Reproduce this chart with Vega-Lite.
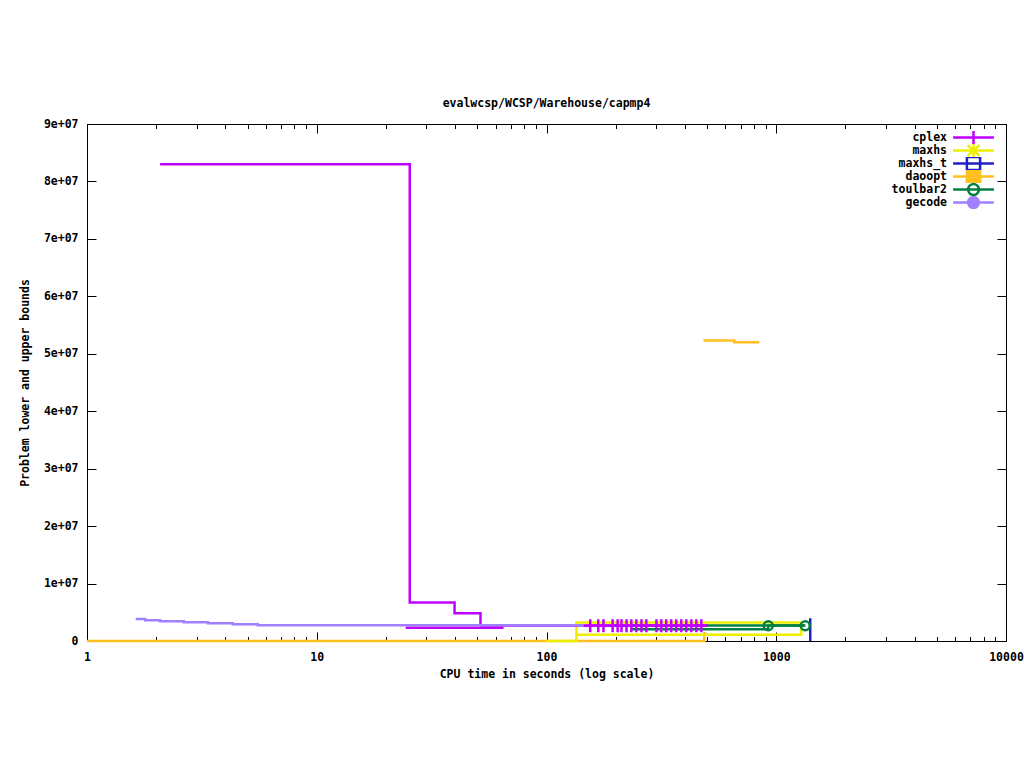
{
  "$schema": "https://vega.github.io/schema/vega-lite/v6.json",
  "width": 919,
  "height": 517,
  "autosize": "none",
  "padding": {"left": 87, "top": 124, "right": 18, "bottom": 127},
  "background": "white",
  "config": {
    "view": {"stroke": "black", "strokeWidth": 1},
    "font": "DejaVu Sans Mono",
    "axis": {
      "grid": false,
      "domainColor": "black",
      "tickColor": "black",
      "tickWidth": 1,
      "labelColor": "black",
      "labelFont": "DejaVu Sans Mono",
      "labelFontSize": 11.5,
      "labelFontWeight": "bold",
      "titleFont": "DejaVu Sans Mono",
      "titleFontSize": 11.5,
      "titleFontWeight": "bold",
      "titleColor": "black",
      "labelFlush": false,
      "labelOverlap": false,
      "labelBound": false
    }
  },
  "title": {
    "text": "evalwcsp/WCSP/Warehouse/capmp4",
    "font": "DejaVu Sans Mono",
    "fontSize": 11.5,
    "fontWeight": "bold",
    "color": "black",
    "anchor": "middle",
    "baseline": "bottom",
    "offset": -2
  },
  "datasets": {
    "lines": [
      {"s": "maxhs_t", "b": "lb", "t": 1406, "v": 0},
      {"s": "maxhs_t", "b": "lb", "t": 1406, "v": 3950000},
      {"s": "daoopt", "b": "lb", "t": 1, "v": 0},
      {"s": "daoopt", "b": "lb", "t": 486, "v": 1350000},
      {"s": "daoopt", "b": "lb", "t": 495, "v": 1350000},
      {"s": "daoopt", "b": "ub", "t": 482, "v": 52300000},
      {"s": "daoopt", "b": "ub", "t": 657, "v": 52000000},
      {"s": "daoopt", "b": "ub", "t": 844, "v": 52000000},
      {"s": "maxhs", "b": "lb", "t": 100, "v": 0},
      {"s": "maxhs", "b": "lb", "t": 135, "v": 1100000},
      {"s": "maxhs", "b": "lb", "t": 1284, "v": 3200000},
      {"s": "maxhs", "b": "ub", "t": 134.5, "v": 1100000},
      {"s": "maxhs", "b": "ub", "t": 135, "v": 3200000},
      {"s": "maxhs", "b": "ub", "t": 1284, "v": 3200000},
      {"s": "toulbar2", "b": "ub", "t": 234, "v": 2700000},
      {"s": "toulbar2", "b": "ub", "t": 1337, "v": 2700000},
      {"s": "toulbar2", "b": "lb", "t": 234, "v": 2050000},
      {"s": "toulbar2", "b": "lb", "t": 923, "v": 2700000},
      {"s": "toulbar2", "b": "lb", "t": 1337, "v": 2700000},
      {"s": "cplex", "b": "ub", "t": 2.08, "v": 83000000},
      {"s": "cplex", "b": "ub", "t": 25.4, "v": 6700000},
      {"s": "cplex", "b": "ub", "t": 39.8, "v": 4850000},
      {"s": "cplex", "b": "ub", "t": 51.6, "v": 2700000},
      {"s": "cplex", "b": "ub", "t": 502, "v": 2700000},
      {"s": "cplex", "b": "lb", "t": 24.4, "v": 2300000},
      {"s": "cplex", "b": "lb", "t": 65, "v": 2300000},
      {"s": "gecode", "b": "ub", "t": 1.63, "v": 3830000},
      {"s": "gecode", "b": "ub", "t": 1.79, "v": 3600000},
      {"s": "gecode", "b": "ub", "t": 2.08, "v": 3430000},
      {"s": "gecode", "b": "ub", "t": 2.64, "v": 3250000},
      {"s": "gecode", "b": "ub", "t": 3.36, "v": 3080000},
      {"s": "gecode", "b": "ub", "t": 4.31, "v": 2900000},
      {"s": "gecode", "b": "ub", "t": 5.54, "v": 2750000},
      {"s": "gecode", "b": "ub", "t": 146, "v": 2750000}
    ],
    "pts": [
      {"s": "cplex", "t": 155, "v": 2650000},
      {"s": "cplex", "t": 168, "v": 2650000},
      {"s": "cplex", "t": 177, "v": 2650000},
      {"s": "cplex", "t": 194, "v": 2650000},
      {"s": "cplex", "t": 204, "v": 2650000},
      {"s": "cplex", "t": 212, "v": 2650000},
      {"s": "cplex", "t": 223, "v": 2650000},
      {"s": "cplex", "t": 234, "v": 2650000},
      {"s": "cplex", "t": 246, "v": 2650000},
      {"s": "cplex", "t": 259, "v": 2650000},
      {"s": "cplex", "t": 272, "v": 2650000},
      {"s": "cplex", "t": 301, "v": 2650000},
      {"s": "cplex", "t": 316, "v": 2650000},
      {"s": "cplex", "t": 332, "v": 2650000},
      {"s": "cplex", "t": 349, "v": 2650000},
      {"s": "cplex", "t": 367, "v": 2650000},
      {"s": "cplex", "t": 386, "v": 2650000},
      {"s": "cplex", "t": 406, "v": 2650000},
      {"s": "cplex", "t": 427, "v": 2650000},
      {"s": "cplex", "t": 449, "v": 2650000},
      {"s": "cplex", "t": 472, "v": 2650000},
      {"s": "toulbar2", "t": 923, "v": 2650000},
      {"s": "toulbar2", "t": 1337, "v": 2650000}
    ]
  },
  "layer": [
    {
      "data": {"name": "lines"},
      "transform": [{"filter": "datum.s == 'maxhs_t' || datum.s == 'daoopt'"}],
      "mark": {"type": "line", "interpolate": "step-after", "strokeWidth": 2.5},
      "encoding": {
        "x": {
          "field": "t", "type": "quantitative",
          "scale": {"type": "log", "domain": [1, 10000], "nice": false},
          "axis": {
            "orient": "bottom",
            "values": [1,2,3,4,5,6,7,8,9,10,20,30,40,50,60,70,80,90,100,200,300,400,500,600,700,800,900,1000,2000,3000,4000,5000,6000,7000,8000,9000,10000],
            "labelExpr": "indexof([1,10,100,1000,10000], datum.value) >= 0 ? format(datum.value, 'd') : ''",
            "tickSize": {"condition": {"test": "indexof([1,10,100,1000,10000], datum.value) >= 0", "value": -9}, "value": -4.5},
            "labelPadding": 19,
            "title": "CPU time in seconds (log scale)",
            "titlePadding": 1
          }
        },
        "y": {
          "field": "v", "type": "quantitative",
          "scale": {"domain": [0, 90000000], "nice": false, "zero": true},
          "axis": {
            "orient": "left",
            "values": [0, 10000000, 20000000, 30000000, 40000000, 50000000, 60000000, 70000000, 80000000, 90000000],
            "labelExpr": "datum.value == 0 ? '0' : replace(format(datum.value, '.0e'), 'e+', 'e+0')",
            "tickSize": -9,
            "labelPadding": 18,
            "title": "Problem lower and upper bounds",
            "titlePadding": 13
          }
        },
        "color": {
          "field": "s", "type": "nominal",
          "scale": {
            "domain": ["cplex", "maxhs", "maxhs_t", "daoopt", "toulbar2", "gecode"],
            "range": ["#c000ff", "#eeee00", "#2020c8", "#ffc020", "#008040", "#a080ff"]
          },
          "legend": {
            "title": null,
            "orient": "none",
            "legendX": 865,
            "legendY": 7,
            "padding": 0,
            "rowPadding": 0,
            "clipHeight": 13,
            "symbolSize": 144,
            "symbolOffset": 14,
            "symbolStrokeWidth": 2.5,
            "labelAlign": "right",
            "labelOffset": -34,
            "labelFont": "DejaVu Sans Mono",
            "labelFontSize": 11.5,
            "labelFontWeight": "bold",
            "labelColor": "black",
            "encode": {
              "entries": {
                "update": {
                  "width": {"value": 60},
                  "height": {"value": 13}
                }
              },
              "symbols": {
                "update": {
                  "shape": {"signal": "datum.value == 'cplex' ? 'M-3.4,0L3.4,0M0,-1.2L0,1.2' : datum.value == 'maxhs' ? 'M-3.4,0L3.4,0M0,-1.15L0,1.15M-1,-0.9L1,0.9M-1,0.9L1,-0.9' : (datum.value == 'maxhs_t' || datum.value == 'daoopt') ? 'M-3.4,0L3.4,0M-1.1,-1.1L1.1,-1.1L1.1,1.1L-1.1,1.1Z' : 'M-3.4,0L3.4,0M-0.9,0A0.9,0.9 0 1,0 0.9,0A0.9,0.9 0 1,0 -0.9,0'"},
                  "fill": {"signal": "(datum.value == 'daoopt' || datum.value == 'gecode') ? scale('color', datum.value) : 'transparent'"},
                  "stroke": {"signal": "scale('color', datum.value)"},
                  "strokeWidth": {"value": 2.5},
                  "opacity": {"value": 1}
                }
              }
            }
          }
        },
        "detail": {"field": "b"}
      }
    },
    {
      "data": {"name": "lines"},
      "transform": [{"filter": "datum.s == 'maxhs' || datum.s == 'toulbar2'"}],
      "mark": {"type": "line", "interpolate": "step-after", "strokeWidth": 2.5},
      "encoding": {
        "x": {"field": "t", "type": "quantitative", "scale": {"type": "log", "domain": [1, 10000], "nice": false}, "axis": null},
        "y": {"field": "v", "type": "quantitative", "scale": {"domain": [0, 90000000], "nice": false, "zero": true}, "axis": null},
        "color": {"field": "s", "type": "nominal", "legend": null},
        "detail": {"field": "b"}
      }
    },
    {
      "data": {"name": "lines"},
      "transform": [{"filter": "datum.s == 'cplex'"}],
      "mark": {"type": "line", "interpolate": "step-after", "strokeWidth": 2.5},
      "encoding": {
        "x": {"field": "t", "type": "quantitative", "scale": {"type": "log", "domain": [1, 10000], "nice": false}, "axis": null},
        "y": {"field": "v", "type": "quantitative", "scale": {"domain": [0, 90000000], "nice": false, "zero": true}, "axis": null},
        "color": {"field": "s", "type": "nominal", "legend": null},
        "detail": {"field": "b"}
      }
    },
    {
      "data": {"name": "lines"},
      "transform": [{"filter": "datum.s == 'gecode'"}],
      "mark": {"type": "line", "interpolate": "step-after", "strokeWidth": 2.5},
      "encoding": {
        "x": {"field": "t", "type": "quantitative", "scale": {"type": "log", "domain": [1, 10000], "nice": false}, "axis": null},
        "y": {"field": "v", "type": "quantitative", "scale": {"domain": [0, 90000000], "nice": false, "zero": true}, "axis": null},
        "color": {"field": "s", "type": "nominal", "legend": null},
        "detail": {"field": "b"}
      }
    },
    {
      "data": {"name": "pts"},
      "transform": [{"filter": "datum.s == 'cplex'"}],
      "mark": {"type": "point", "shape": "M-1,0L1,0M0,-1L0,1", "size": 169, "filled": false, "strokeWidth": 2.5, "opacity": 1},
      "encoding": {
        "x": {
          "field": "t", "type": "quantitative",
          "scale": {"type": "log", "domain": [1, 10000], "nice": false},
          "axis": {
            "orient": "top",
            "values": [1,2,3,4,5,6,7,8,9,10,20,30,40,50,60,70,80,90,100,200,300,400,500,600,700,800,900,1000,2000,3000,4000,5000,6000,7000,8000,9000,10000],
            "labels": false,
            "tickSize": {"condition": {"test": "indexof([1,10,100,1000,10000], datum.value) >= 0", "value": -9}, "value": -4.5},
            "title": null
          }
        },
        "y": {
          "field": "v", "type": "quantitative",
          "scale": {"domain": [0, 90000000], "nice": false, "zero": true},
          "axis": {
            "orient": "right",
            "values": [0, 10000000, 20000000, 30000000, 40000000, 50000000, 60000000, 70000000, 80000000, 90000000],
            "labels": false,
            "tickSize": -9,
            "title": null
          }
        },
        "color": {"field": "s", "type": "nominal", "legend": null}
      }
    },
    {
      "data": {"name": "pts"},
      "transform": [{"filter": "datum.s == 'toulbar2'"}],
      "mark": {"type": "point", "shape": "circle", "size": 80, "filled": false, "strokeWidth": 2.5, "opacity": 1},
      "encoding": {
        "x": {"field": "t", "type": "quantitative", "scale": {"type": "log", "domain": [1, 10000], "nice": false}, "axis": null},
        "y": {"field": "v", "type": "quantitative", "scale": {"domain": [0, 90000000], "nice": false, "zero": true}, "axis": null},
        "color": {"field": "s", "type": "nominal", "legend": null}
      }
    }
  ],
  "resolve": {"axis": {"x": "independent", "y": "independent"}}
}
